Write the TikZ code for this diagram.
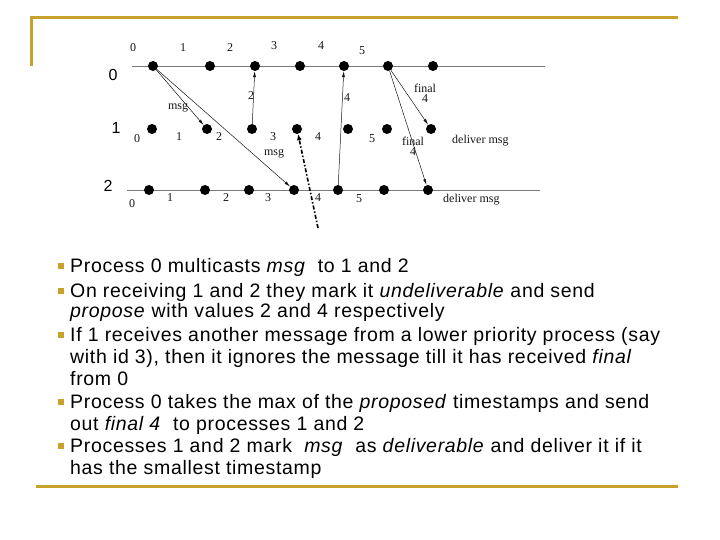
\documentclass[tikz,border=0pt]{standalone}
\usepackage{fontspec}
\setmainfont{Liberation Sans}[LetterSpace=3.5]
\newfontfamily\diagfont{Liberation Serif}
\usetikzlibrary{arrows.meta}
\definecolor{frameGold}{HTML}{C8A12B}
\definecolor{ink}{HTML}{151515}
\definecolor{timeline}{HTML}{7A7A7A}
\tikzset{
  x=1pt, y=-1pt,
  evt/.style={circle, fill=black, inner sep=0pt, minimum size=10pt},
  tstamp/.style={font=\diagfont\fontsize{12}{12}\selectfont, text=ink, inner sep=0pt},
  proc/.style={font=\fontsize{16}{16}\selectfont, text=black, inner sep=0pt},
  msgedge/.style={-{Latex[length=6pt,width=3pt]}, draw=ink, line width=0.5pt},
  probe/.style={-{Latex[length=6pt,width=5pt]}, draw=black, line width=1.6pt,
                dash pattern=on 4pt off 2pt on 1.5pt off 2pt},
  rule/.style={draw=frameGold, line width=3pt},
  bulletbox/.style={rectangle, fill=frameGold, minimum size=6pt, inner sep=0pt},
  item/.style={anchor=base west, inner sep=0pt, text=black,
               font=\fontsize{19.5}{21.5}\selectfont},
}

\begin{document}
\begin{tikzpicture}
\useasboundingbox (0,0) rectangle (720,540);

% --- slide frame ---
\draw[rule] (30,18) -- (678,18);
\draw[rule] (31,17) -- (31,66);
\draw[rule] (36,486) -- (678,486);

% --- process labels and time lines ---
\node[proc] (lbl0) at (113,75)  {0};
\node[proc] (lbl1) at (116,128) {1};
\node[proc] (lbl2) at (108,186) {2};
\coordinate (l0s) at (132,66);  \coordinate (l0e) at (545,66);
\coordinate (l2s) at (127,190); \coordinate (l2e) at (540,190);
\draw[timeline, line width=0.7pt] (l0s) -- (l0e);
\draw[timeline, line width=0.7pt] (l2s) -- (l2e);

% --- events of process 0 ---
\node[evt] (a0) at (153,66) {};
\node[evt] (a1) at (210,66) {};
\node[evt] (a2) at (255,66) {};
\node[evt] (a3) at (300,66) {};
\node[evt] (a4) at (344,66) {};
\node[evt] (a5) at (388,66) {};
\node[evt] (a6) at (433,66) {};

% --- events of process 1 ---
\node[evt] (b0) at (152,129) {};
\node[evt] (b1) at (207,129) {};
\node[evt] (b2) at (252,129) {};
\node[evt] (b3) at (297,129) {};
\node[evt] (b4) at (348,129) {};
\node[evt] (b5) at (387,129) {};
\node[evt] (b6) at (431,129) {};

% --- events of process 2 ---
\node[evt] (c0) at (149,190) {};
\node[evt] (c1) at (205,190) {};
\node[evt] (c2) at (249,190) {};
\node[evt] (c3) at (294,190) {};
\node[evt] (c4) at (338,190) {};
\node[evt] (c5) at (384,190) {};
\node[evt] (c6) at (428,190) {};

% --- timestamps ---
\node[tstamp] (ta0) at (133,48) {0};
\node[tstamp] (ta1) at (183,48) {1};
\node[tstamp] (ta2) at (230,48) {2};
\node[tstamp] (ta3) at (274,46) {3};
\node[tstamp] (ta4) at (321,46) {4};
\node[tstamp] (ta5) at (362,51) {5};

\node[tstamp] (tb0) at (137,139) {0};
\node[tstamp] (tb1) at (179,137) {1};
\node[tstamp] (tb2) at (219,137) {2};
\node[tstamp] (tb3) at (273,137) {3};
\node[tstamp] (tb4) at (318,137) {4};
\node[tstamp] (tb5) at (372,139) {5};

\node[tstamp] (tc0) at (132,204) {0};
\node[tstamp] (tc1) at (170,198) {1};
\node[tstamp] (tc2) at (226,198) {2};
\node[tstamp] (tc3) at (268,198) {3};
\node[tstamp] (tc4) at (318,198) {4};
\node[tstamp] (tc5) at (359,199) {5};

% --- messages ---
\draw[msgedge] (a0) -- (b1);
\draw[msgedge] (a0) -- (c3);
\draw[msgedge] (b2) -- (a2);
\draw[msgedge] (c4) -- (a4);
\draw[msgedge] (a5) -- (b6);
\draw[msgedge] (a5) -- (c6);

\node[tstamp] (m1) at (178,108) {msg};
\node[tstamp] (m2) at (274,154) {msg};
\node[tstamp] (p1) at (251,96)  {2};
\node[tstamp] (p2) at (347,98)  {4};
\node[tstamp, align=center, font=\diagfont\fontsize{12}{10}\selectfont] (f1) at (425,93)  {final\\4};
\node[tstamp, align=center, font=\diagfont\fontsize{12}{10}\selectfont] (f2) at (413,146) {final\\4};
\node[tstamp, anchor=west] (d1) at (452,141) {deliver msg};
\node[tstamp, anchor=west] (d2) at (443,200) {deliver msg};

% --- other message from lower priority process ---
\coordinate (low) at (318,228);
\draw[probe] (low) -- (b3);

% --- bullet list ---
\node[bulletbox] (s1) at (61,266) {};
\node[bulletbox] (s2) at (61,291) {};
\node[bulletbox] (s3) at (61,335) {};
\node[bulletbox] (s4) at (61,402) {};
\node[bulletbox] (s5) at (61,446) {};

\node[item] (i1a) at (70,272) {Process 0 multicasts \textit{msg}\ \ to 1 and 2};
\node[item] (i2a) at (70,297) {On receiving 1 and 2 they mark it \textit{undeliverable} and send};
\node[item] (i2b) at (70,317) {\textit{propose} with values 2 and 4 respectively};
\node[item] (i3a) at (70,341) {If 1 receives another message from a lower priority process (say};
\node[item] (i3b) at (70,363) {with id 3), then it ignores the message till it has received \textit{final}};
\node[item] (i3c) at (70,385) {from 0};
\node[item] (i4a) at (70,408) {Process 0 takes the max of the \textit{proposed} timestamps and send};
\node[item] (i4b) at (70,430) {out \textit{final 4}\ \ to processes 1 and 2};
\node[item] (i5a) at (70,452) {Processes 1 and 2 mark\ \ \textit{msg}\ \ as \textit{deliverable} and deliver it if it};
\node[item] (i5b) at (70,474) {has the smallest timestamp};

\end{tikzpicture}
\end{document}
